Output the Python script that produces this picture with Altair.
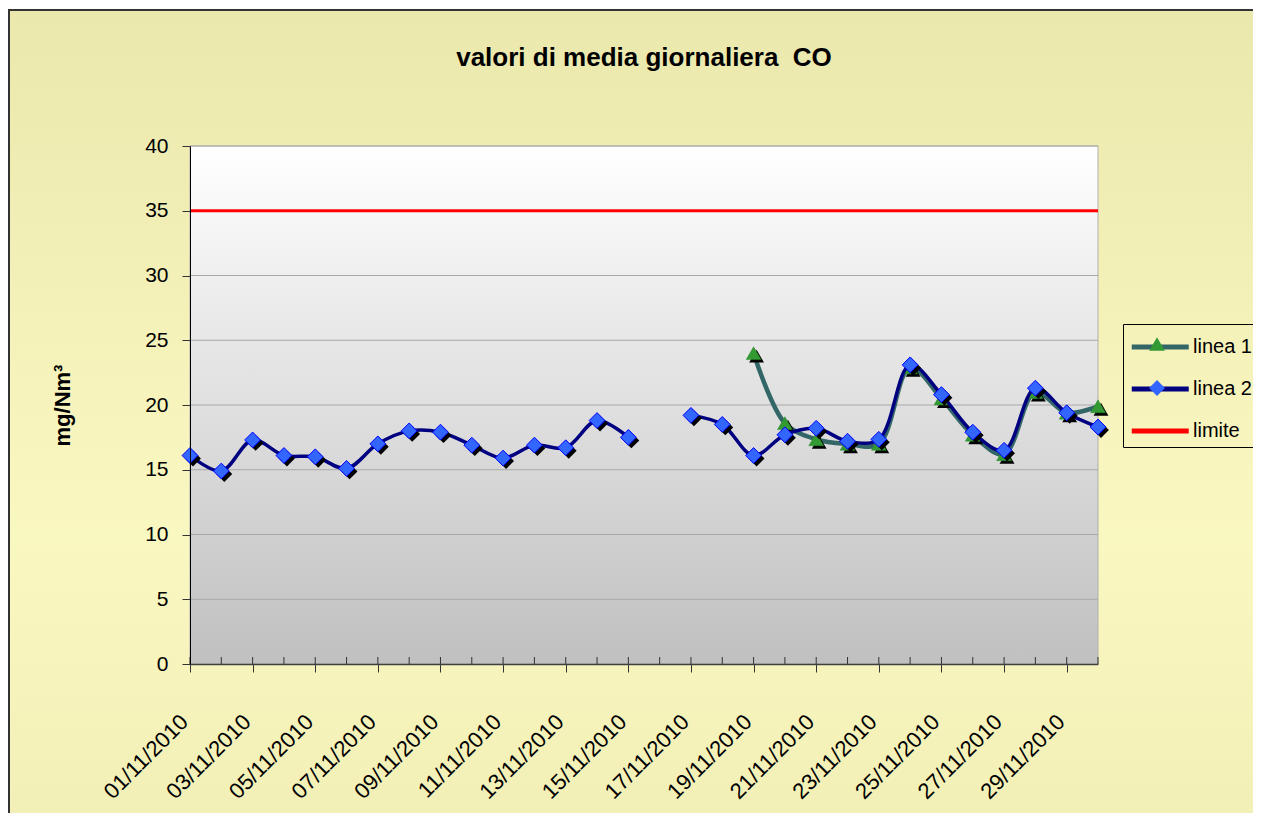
import altair as alt
import pandas as pd

# ---------------- data ----------------
dates = [f"{d:02d}/11/2010" for d in range(1, 31)]
label_dates = [f"{d:02d}/11/2010" for d in range(1, 31, 2)]

linea1 = [None, None, None, None, None, None, None, None, None, None,
          None, None, None, None, None, None, None, None,
          24.0, 18.6, 17.35, 17.0, 17.0, 22.9, 20.5, 17.7, 16.2, 21.0, 19.4, 19.9]
linea2 = [16.1, 14.9, 17.3, 16.1, 16.0, 15.1, 17.0, 18.0, 17.9, 16.9,
          15.9, 16.9, 16.7, 18.8, 17.5, None, 19.2, 18.5, 16.1, 17.7,
          18.2, 17.2, 17.35, 23.1, 20.8, 17.9, 16.5, 21.3, 19.4, 18.3]
LIMITE = 35.0

series_names = ["linea 1", "linea 2", "limite"]
y_ticks = [0, 5, 10, 15, 20, 25, 30, 35, 40]

rows = []
for i, d in enumerate(dates):
    rows.append({"date": d, "value": linea1[i], "series": "linea 1", "marker": "linea 1"})
    rows.append({"date": d, "value": linea2[i], "series": "linea 2", "marker": "linea 2"})
    rows.append({"date": d, "value": LIMITE, "series": "limite", "marker": "limite"})
df = pd.DataFrame(rows)
grid_df = pd.DataFrame({"value": y_ticks[1:]})
dates_df = pd.DataFrame({"date": dates})
one = pd.DataFrame({"k": [0]})

# ---------------- styling ----------------
FONT = "Liberation Sans"
W, H = 908, 518

x_enc = alt.X(
    "date:O", sort=dates,
    scale=alt.Scale(type="point", padding=0),
    axis=alt.Axis(values=label_dates, labelAngle=-45, labelAlign="right",
                  labelBaseline="middle", labelFont=FONT, labelFontSize=22,
                  labelColor="black", labelPadding=46, labelOffset=-6,
                  labelOverlap=False, labelFlush=False, labelBound=False,
                  tickSize=8, tickColor="#333333", tickWidth=1,
                  domainColor="#404040", domainWidth=1.5, grid=False,
                  title=None, zindex=1),
)
y_enc = alt.Y(
    "value:Q",
    scale=alt.Scale(domain=[0, 40], nice=False, zero=True),
    axis=alt.Axis(values=y_ticks, grid=False, labelFont=FONT, labelFontSize=21,
                  labelColor="black", labelPadding=14, tickSize=8,
                  tickColor="#333333", domainColor="black", domainWidth=1,
                  title="mg/Nm³", titleFont=FONT, titleFontSize=22,
                  titleFontWeight="bold", titleColor="black",
                  titleX=-128, titleY=259, titleAlign="center",
                  titleBaseline="middle", titleAngle=270, zindex=1),
)

stroke_enc = alt.Stroke(
    "series:N",
    scale=alt.Scale(domain=series_names, range=["#336666", "#000080", "#FF0000"]),
    legend=alt.Legend(title=None, orient="none", legendX=933, legendY=178,
                      symbolType="M-1,0H3", symbolSize=812, symbolStrokeWidth=5,
                      labelFont=FONT, labelFontSize=20, labelColor="black",
                      labelOffset=30, strokeColor="black", padding=6,
                      rowPadding=15, zindex=1),
)
# marker part of the legend: symbols only, drawn on top of the line legend
legend2 = alt.Legend(title=None, orient="none", legendX=951, legendY=182,
                     symbolSize=250, symbolStrokeWidth=1, symbolStrokeColor="#0000EE",
                     labelExpr="''", labelFontSize=20,
                     padding=6, rowPadding=24, zindex=2)
fill_enc = alt.Fill("marker:N",
                    scale=alt.Scale(domain=["linea 1", "linea 2"], range=["#339933", "#3366FF"]),
                    legend=legend2)
shape_enc = alt.Shape("marker:N",
                      scale=alt.Scale(domain=["linea 1", "linea 2"], range=["triangle-up", "diamond"]),
                      legend=legend2)

frame_grad = alt.Gradient(gradient="linear", x1=0, x2=0, y1=0, y2=1, stops=[
    alt.GradientStop(color="#EBE8AD", offset=0),
    alt.GradientStop(color="#FAF8C1", offset=0.5),
    alt.GradientStop(color="#EBE8AD", offset=1)])
plot_grad = alt.Gradient(gradient="linear", x1=0, x2=0, y1=0, y2=1, stops=[
    alt.GradientStop(color="#FFFFFF", offset=0),
    alt.GradientStop(color="#C0C0C0", offset=1)])

frame = alt.Chart(one).mark_rect(fill=frame_grad, stroke="#333333", strokeWidth=2).encode(
    x=alt.value(-181), x2=alt.value(W + 400), y=alt.value(-136), y2=alt.value(H + 400))
plotbg = alt.Chart(one).mark_rect(fill=plot_grad, stroke="#B0B0B0", strokeWidth=1).encode(
    x=alt.value(0), x2=alt.value(W), y=alt.value(0), y2=alt.value(H))
grid = alt.Chart(grid_df).mark_rule(color="#A8A8A8", strokeWidth=1).encode(y=y_enc)
xticks = alt.Chart(dates_df).mark_rule(color="#333333", strokeWidth=1).encode(
    x=x_enc, y=alt.value(H - 7), y2=alt.value(H))

base = alt.Chart(df)
lim_line = base.transform_filter(alt.datum.series == "limite").mark_line(strokeWidth=3).encode(
    x=x_enc, y=y_enc, stroke=stroke_enc)
l1_line = base.transform_filter(alt.datum.series == "linea 1").mark_line(
    strokeWidth=4.5, interpolate="catmull-rom").encode(x=x_enc, y=y_enc, stroke=stroke_enc)
l1_shadow = base.transform_filter(alt.datum.series == "linea 1").mark_point(
    filled=True, shape="triangle-up", size=220, color="black", opacity=1,
    xOffset=3, yOffset=3).encode(x=x_enc, y=y_enc)
l1_pts = base.transform_filter(alt.datum.series == "linea 1").mark_point(
    filled=True, size=220, stroke="#2E8B2E", strokeWidth=0.5, opacity=1).encode(
    x=x_enc, y=y_enc, fill=fill_enc, shape=shape_enc)
l2_line = base.transform_filter(alt.datum.series == "linea 2").mark_line(
    strokeWidth=3.5, interpolate="catmull-rom").encode(x=x_enc, y=y_enc, stroke=stroke_enc)
l2_shadow = base.transform_filter(alt.datum.series == "linea 2").mark_point(
    filled=True, shape="diamond", size=250, color="black", opacity=1,
    xOffset=3, yOffset=3).encode(x=x_enc, y=y_enc)
l2_pts = base.transform_filter(alt.datum.series == "linea 2").mark_point(
    filled=True, size=250, stroke="#0000FF", strokeWidth=1, opacity=1).encode(
    x=x_enc, y=y_enc, fill=fill_enc, shape=shape_enc)

chart = alt.layer(
    frame, plotbg, grid, xticks, lim_line, l1_line, l1_shadow, l1_pts,
    l2_line, l2_shadow, l2_pts
).properties(
    width=W, height=H,
    autosize=alt.AutoSizeParams(type="none"),
    padding={"left": 182, "top": 138, "right": 155, "bottom": 149},
    title=alt.TitleParams("valori di media giornaliera\u00a0 CO", font=FONT, fontSize=26,
                          fontWeight="bold", color="black", anchor="middle",
                          frame="group", baseline="alphabetic", offset=-83, zindex=1),
).configure(background="white").configure_view(stroke=None)

chart.save("out.html", embed_options={"renderer": "svg", "actions": False})
